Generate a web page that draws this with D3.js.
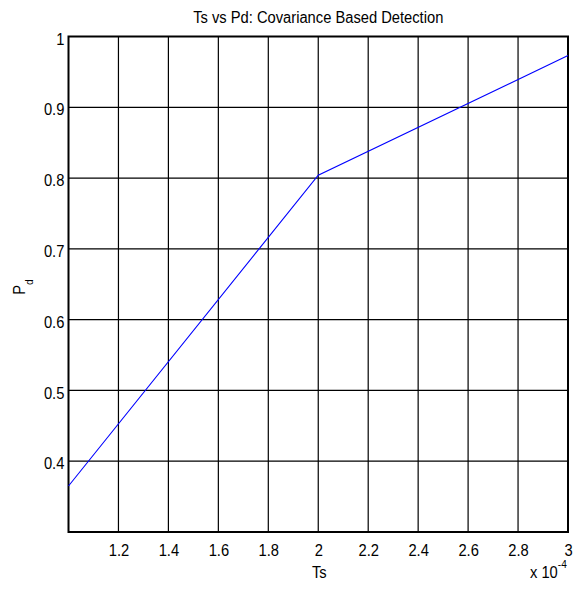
<!DOCTYPE html>
<html>
<head>
<meta charset="utf-8">
<script src="https://cdn.jsdelivr.net/npm/d3@7"></script>
<style>
  html, body { margin: 0; padding: 0; background: #fff; }
  svg text { font-family: "Liberation Sans", Arial, sans-serif; fill: #000; }
</style>
</head>
<body>
<svg id="chart" width="579" height="593"></svg>
<script>
// Symbol duration (×10^-4 s) and probability of detection
const tsValues = [1.0, 2.0, 3.0];
const pdValues = [0.365, 0.804, 0.973];
const xTicks = [1.2, 1.4, 1.6, 1.8, 2.0, 2.2, 2.4, 2.6, 2.8, 3.0];
const yTicks = [0.4, 0.5, 0.6, 0.7, 0.8, 0.9, 1.0];

const FONT = 16;      // base text size
const SX = 0.92;      // slightly narrow glyphs

const svg = d3.select("#chart");
const margin = { left: 68.5, right: 11, top: 36.5, bottom: 61 };
const W = 579, H = 593;
const x = d3.scaleLinear().domain([1, 3]).range([margin.left, W - margin.right]);
const y = d3.scaleLinear().domain([0.3, 1]).range([H - margin.bottom, margin.top]);

// grid
const grid = svg.append("g");
grid.selectAll("line.vx").data(xTicks).join("line")
  .attr("x1", d => x(d)).attr("x2", d => x(d))
  .attr("y1", y(0.3)).attr("y2", y(1))
  .attr("stroke", "#000").attr("stroke-width", 1.2);
grid.selectAll("line.hy").data(yTicks).join("line")
  .attr("x1", x(1)).attr("x2", x(3))
  .attr("y1", d => y(d)).attr("y2", d => y(d))
  .attr("stroke", "#000").attr("stroke-width", 1.2);

// axes
const xAxis = d3.axisBottom(x).tickValues(xTicks).tickSize(0).tickPadding(12.5)
  .tickFormat(d3.format("~g"));
const yAxis = d3.axisLeft(y).tickValues(yTicks).tickSize(0).tickPadding(4.5)
  .tickFormat(d3.format("~g"));
const gx = svg.append("g").attr("transform", `translate(0,${y(0.3)})`).call(xAxis);
const gy = svg.append("g").attr("transform", `translate(${x(1)},0)`).call(yAxis);
[gx, gy].forEach(g => {
  g.select(".domain").remove();
  g.attr("font-size", FONT).attr("font-family", "Liberation Sans, Arial, sans-serif");
  g.selectAll("text").attr("fill", "#000").attr("transform", `scale(${SX},1)`);
});
gy.selectAll("text").attr("dy", "0.48em");

// frame
svg.append("rect")
  .attr("x", x(1)).attr("y", y(1))
  .attr("width", x(3) - x(1)).attr("height", y(0.3) - y(1))
  .attr("fill", "none").attr("stroke", "#000").attr("stroke-width", 2);

// data line
const line = d3.line().x((d, i) => x(tsValues[i])).y(d => y(d));
svg.append("path").datum(pdValues)
  .attr("d", line).attr("fill", "none")
  .attr("stroke", "#0000ff").attr("stroke-width", 1.1);

// text placed at (px, py) with narrow glyphs
function label(px, py, anchor, rot) {
  return svg.append("text")
    .attr("transform", `translate(${px},${py})${rot ? ` rotate(${rot})` : ""} scale(${SX},1)`)
    .attr("text-anchor", anchor).attr("font-size", FONT);
}

const cx = (x(1) + x(3)) / 2;
label(cx, 23, "middle").text("Ts vs Pd: Covariance Based Detection");
label(cx + 1, 578, "middle").text("Ts");

const yl = label(25, 287, "middle", -90);
yl.append("tspan").text("P");
yl.append("tspan").attr("font-size", 11).attr("dy", 8).text("d");

const ex = label(530, 578, "start");
ex.append("tspan").text("x 10");
ex.append("tspan").attr("font-size", 11).attr("dy", -10).text("-4");
</script>
</body>
</html>
